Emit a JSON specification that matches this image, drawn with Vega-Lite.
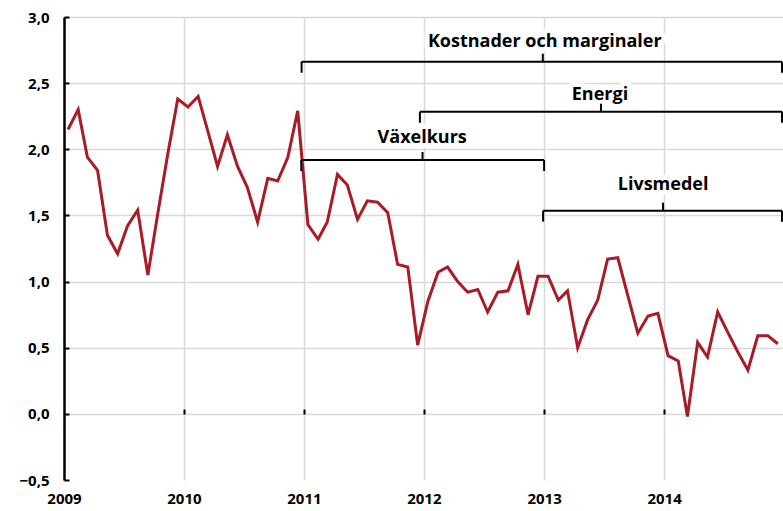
{
  "$schema": "https://vega.github.io/schema/vega-lite/v6.json",
  "width": 720,
  "height": 463,
  "autosize": "none",
  "padding": {"left": 64, "top": 17, "right": 0, "bottom": 31},
  "background": "white",
  "config": {"view": {"stroke": null}, "font": "Open Sans"},
  "datasets": {
    "cpi": [
      {"month": "2009-01", "value": 2.15}, {"month": "2009-02", "value": 2.30}, {"month": "2009-03", "value": 1.94}, {"month": "2009-04", "value": 1.84},
      {"month": "2009-05", "value": 1.35}, {"month": "2009-06", "value": 1.21}, {"month": "2009-07", "value": 1.42}, {"month": "2009-08", "value": 1.54},
      {"month": "2009-09", "value": 1.05}, {"month": "2009-10", "value": 1.51}, {"month": "2009-11", "value": 1.97}, {"month": "2009-12", "value": 2.38},
      {"month": "2010-01", "value": 2.32}, {"month": "2010-02", "value": 2.40}, {"month": "2010-03", "value": 2.15}, {"month": "2010-04", "value": 1.87},
      {"month": "2010-05", "value": 2.11}, {"month": "2010-06", "value": 1.87}, {"month": "2010-07", "value": 1.71}, {"month": "2010-08", "value": 1.45},
      {"month": "2010-09", "value": 1.78}, {"month": "2010-10", "value": 1.76}, {"month": "2010-11", "value": 1.94}, {"month": "2010-12", "value": 2.29},
      {"month": "2011-01", "value": 1.43}, {"month": "2011-02", "value": 1.32}, {"month": "2011-03", "value": 1.45}, {"month": "2011-04", "value": 1.81},
      {"month": "2011-05", "value": 1.73}, {"month": "2011-06", "value": 1.47}, {"month": "2011-07", "value": 1.61}, {"month": "2011-08", "value": 1.60},
      {"month": "2011-09", "value": 1.52}, {"month": "2011-10", "value": 1.13}, {"month": "2011-11", "value": 1.11}, {"month": "2011-12", "value": 0.52},
      {"month": "2012-01", "value": 0.85}, {"month": "2012-02", "value": 1.07}, {"month": "2012-03", "value": 1.11}, {"month": "2012-04", "value": 1.00},
      {"month": "2012-05", "value": 0.92}, {"month": "2012-06", "value": 0.94}, {"month": "2012-07", "value": 0.77}, {"month": "2012-08", "value": 0.92},
      {"month": "2012-09", "value": 0.93}, {"month": "2012-10", "value": 1.13}, {"month": "2012-11", "value": 0.75}, {"month": "2012-12", "value": 1.04},
      {"month": "2013-01", "value": 1.04}, {"month": "2013-02", "value": 0.86}, {"month": "2013-03", "value": 0.93}, {"month": "2013-04", "value": 0.50},
      {"month": "2013-05", "value": 0.71}, {"month": "2013-06", "value": 0.86}, {"month": "2013-07", "value": 1.17}, {"month": "2013-08", "value": 1.18},
      {"month": "2013-09", "value": 0.89}, {"month": "2013-10", "value": 0.61}, {"month": "2013-11", "value": 0.74}, {"month": "2013-12", "value": 0.76},
      {"month": "2014-01", "value": 0.44}, {"month": "2014-02", "value": 0.40}, {"month": "2014-03", "value": -0.02}, {"month": "2014-04", "value": 0.54},
      {"month": "2014-05", "value": 0.43}, {"month": "2014-06", "value": 0.77}, {"month": "2014-07", "value": 0.62}, {"month": "2014-08", "value": 0.47},
      {"month": "2014-09", "value": 0.33}, {"month": "2014-10", "value": 0.59}, {"month": "2014-11", "value": 0.59}, {"month": "2014-12", "value": 0.53}
    ],
    "brackets": [
      {"label": "Kostnader och marginaler", "start": "2010-12-25", "end": "2014-12-26", "mid": "2012-12-28", "level": 2.662, "lx": "2013-01-03", "ly": 2.775},
      {"label": "Energi", "start": "2011-12-20", "end": "2014-12-26", "mid": "2013-06-23", "level": 2.284, "lx": "2013-06-20", "ly": 2.372},
      {"label": "Växelkurs", "start": "2010-12-24", "end": "2013-01-01", "mid": "2011-12-28", "level": 1.919, "lx": "2011-12-27", "ly": 2.045},
      {"label": "Livsmedel", "start": "2012-12-29", "end": "2014-12-26", "mid": "2013-12-29", "level": 1.536, "lx": "2013-12-29", "ly": 1.692}
    ]
  },
  "resolve": {"axis": {"x": "independent", "y": "independent"}},
  "layer": [
    {
      "data": {"name": "cpi"},
      "mark": {"type": "line", "color": "#a81c27", "strokeWidth": 3, "xOffset": 4},
      "encoding": {
        "x": {
          "field": "month", "type": "temporal",
          "scale": {"domain": [{"year": 2009, "month": 1, "date": 1}, {"year": 2015, "month": 1, "date": 1}], "nice": false},
          "axis": {
            "orient": "bottom",
            "values": [{"year": 2009, "month": 1, "date": 1}, {"year": 2010, "month": 1, "date": 1}, {"year": 2011, "month": 1, "date": 1}, {"year": 2012, "month": 1, "date": 1}, {"year": 2013, "month": 1, "date": 1}, {"year": 2014, "month": 1, "date": 1}],
            "format": "%Y", "labelFont": "Open Sans", "labelFontWeight": "bold", "labelFontSize": 15, "labelColor": "black",
            "labelPadding": 11, "labelFlush": false, "ticks": false, "domain": false,
            "grid": true, "gridColor": "#d9d9d9", "gridWidth": 1.5, "title": null
          }
        },
        "y": {
          "field": "value", "type": "quantitative",
          "scale": {"domain": [-0.5, 3], "nice": false, "zero": false},
          "axis": {
            "orient": "left",
            "values": [-0.5, 0, 0.5, 1, 1.5, 2, 2.5, 3],
            "labelExpr": "replace(format(datum.value, '.1f'), '.', ',')",
            "labelFont": "Open Sans", "labelFontWeight": "bold", "labelFontSize": 15, "labelColor": "black",
            "labelPadding": 15, "ticks": false, "domain": true, "domainColor": "black", "domainWidth": 2.5,
            "grid": true, "gridColor": "#d9d9d9", "gridWidth": 1.5,
            "gridOpacity": {"condition": {"test": "datum.value < 0", "value": 0}, "value": 1},
            "title": null
          }
        }
      }
    },
    {
      "mark": {"type": "rule", "color": "black", "strokeWidth": 2.5},
      "encoding": {
        "y": {
          "datum": 0, "type": "quantitative",
          "axis": {
            "orient": "right", "offset": -720,
            "values": [-0.5, 0, 0.5, 1, 1.5, 2, 2.5, 3],
            "labels": false, "domain": false, "grid": false,
            "ticks": true, "tickSize": 5, "tickWidth": 2, "tickColor": "black", "title": null
          }
        }
      }
    },
    {
      "data": {"name": "brackets"},
      "mark": {"type": "text", "font": "Open Sans", "fontWeight": "bold", "fontSize": 18, "baseline": "alphabetic", "align": "center", "fill": "white", "stroke": "white", "strokeWidth": 10, "strokeJoin": "round"},
      "encoding": {
        "x": {"field": "lx", "type": "temporal", "axis": null},
        "y": {"field": "ly", "type": "quantitative", "axis": null},
        "text": {"field": "label"}
      }
    },
    {
      "data": {"name": "brackets"},
      "mark": {"type": "rule", "color": "black", "strokeWidth": 2},
      "encoding": {
        "x": {
          "field": "start", "type": "temporal",
          "axis": {
            "orient": "top", "offset": -397,
            "values": [{"year": 2010, "month": 1, "date": 1}, {"year": 2011, "month": 1, "date": 1}, {"year": 2012, "month": 1, "date": 1}, {"year": 2013, "month": 1, "date": 1}, {"year": 2014, "month": 1, "date": 1}],
            "labels": false, "domain": false, "grid": false,
            "ticks": true, "tickSize": 5, "tickWidth": 2, "tickColor": "black", "title": null
          }
        },
        "x2": {"field": "end"},
        "y": {"field": "level", "type": "quantitative", "axis": null}
      }
    },
    {
      "data": {"name": "brackets"},
      "mark": {"type": "rule", "color": "black", "strokeWidth": 2, "y2Offset": 11},
      "encoding": {
        "x": {"field": "start", "type": "temporal", "axis": null},
        "y": {"field": "level", "type": "quantitative", "axis": null},
        "y2": {"field": "level"}
      }
    },
    {
      "data": {"name": "brackets"},
      "mark": {"type": "rule", "color": "black", "strokeWidth": 2, "y2Offset": 11},
      "encoding": {
        "x": {"field": "end", "type": "temporal", "axis": null},
        "y": {"field": "level", "type": "quantitative", "axis": null},
        "y2": {"field": "level"}
      }
    },
    {
      "data": {"name": "brackets"},
      "mark": {"type": "rule", "color": "black", "strokeWidth": 2, "y2Offset": -8},
      "encoding": {
        "x": {"field": "mid", "type": "temporal", "axis": null},
        "y": {"field": "level", "type": "quantitative", "axis": null},
        "y2": {"field": "level"}
      }
    },
    {
      "data": {"name": "brackets"},
      "mark": {"type": "text", "font": "Open Sans", "fontWeight": "bold", "fontSize": 18, "baseline": "alphabetic", "align": "center", "color": "black"},
      "encoding": {
        "x": {"field": "lx", "type": "temporal", "axis": null},
        "y": {"field": "ly", "type": "quantitative", "axis": null},
        "text": {"field": "label"}
      }
    }
  ]
}
